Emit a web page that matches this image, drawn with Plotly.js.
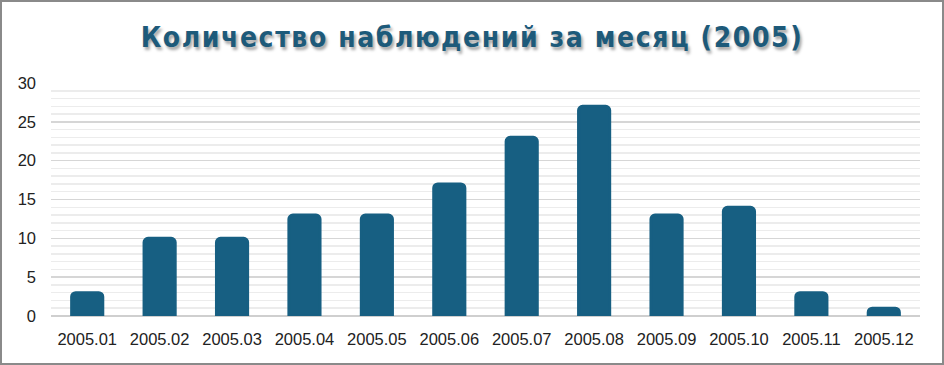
<!DOCTYPE html>
<html>
<head>
<meta charset="utf-8">
<script src="https://cdn.plot.ly/plotly-3.0.1.min.js"></script>
<style>
html,body{margin:0;padding:0;background:#fff;}
#wrap{position:relative;width:944px;height:365px;}
#chart{width:944px;height:365px;}
#frame{position:absolute;left:0;top:0;width:944px;height:365px;box-sizing:border-box;border:2px solid #8a8a8a;pointer-events:none;}
.gtitle{letter-spacing:1.6px;font-stretch:condensed;}
</style>
</head>
<body>
<div id="wrap"><div id="chart"></div><div id="frame"></div></div>
<script>
const categories = ["2005.01","2005.02","2005.03","2005.04","2005.05","2005.06","2005.07","2005.08","2005.09","2005.10","2005.11","2005.12"];
const counts = [3,10,10,13,13,17,23,27,13,14,3,1];
const titleText = "Количество наблюдений за месяц (2005)";
const yTicks = [0,5,10,15,20,25,30];

const trace = {
  type: "bar",
  x: categories,
  y: counts,
  marker: {color: "#175f82", cornerradius: 4, line: {color: "#175f82", width: 3}},
  hoverinfo: "x+y"
};

const layout = {
  width: 944,
  height: 365,
  margin: {l: 51, r: 24, t: 83, b: 49},
  paper_bgcolor: "#ffffff",
  plot_bgcolor: "#ffffff",
  bargap: 0.57,
  showlegend: false,
  title: {
    text: titleText,
    x: 0.5,
    xanchor: "center",
    y: 0.898,
    yanchor: "middle",
    font: {family: "DejaVu Sans, sans-serif", size: 28, weight: 700, color: "#1d5a7a", shadow: "2px 3px 3px rgba(0,0,0,0.35)"}
  },
  xaxis: {
    type: "category",
    showgrid: false,
    showline: false,
    ticks: "",
    ticklabelstandoff: 11,
    tickfont: {family: "Liberation Sans, Arial, sans-serif", size: 16.5, color: "#222222"}
  },
  yaxis: {
    range: [0, 30],
    tickvals: yTicks,
    showline: false,
    ticks: "",
    gridcolor: "#d6d6d6",
    gridwidth: 1.5,
    zeroline: true,
    zerolinecolor: "#cfcfcf",
    zerolinewidth: 1.5,
    ticklabelstandoff: 14,
    tickfont: {family: "Liberation Sans, Arial, sans-serif", size: 16.5, color: "#222222"},
    minor: {dtick: 1, showgrid: true, gridcolor: "#ececec", gridwidth: 1.5}
  }
};

Plotly.newPlot("chart", [trace], layout, {displayModeBar: false, staticPlot: true});
</script>
</body>
</html>
